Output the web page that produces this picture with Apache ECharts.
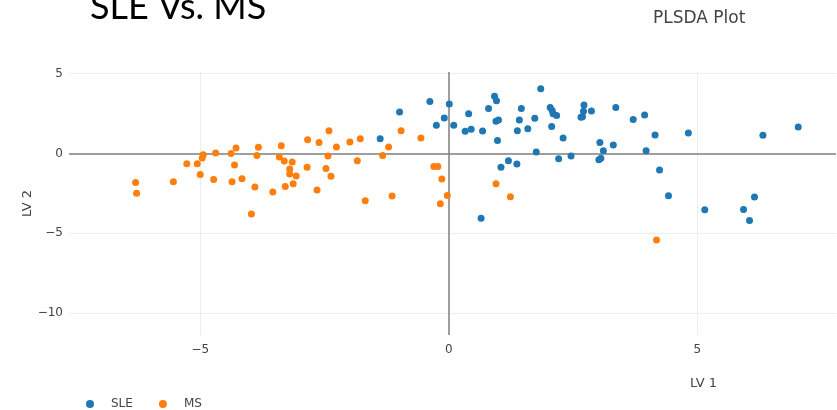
<!DOCTYPE html>
<html>
<head>
<meta charset="utf-8">
<script src="https://cdn.jsdelivr.net/npm/echarts@6/dist/echarts.min.js"></script>
<style>html,body{margin:0;padding:0;background:#fff}#c{width:837px;height:410px}</style>
</head>
<body>
<div id="c"></div>
<script>
const seriesNames = ["SLE", "MS"];
const sleLV1 = [-1.38,-0.99,-0.38,-0.25,-0.09,0.01,0.10,0.40,0.33,0.45,0.68,0.80,0.92,0.96,0.95,1.00,0.98,0.65,1.05,1.20,1.37,1.38,1.42,1.46,1.59,1.73,1.85,1.76,2.04,2.08,2.10,2.17,2.07,2.21,2.30,2.46,2.72,2.71,2.66,2.69,2.87,3.04,3.11,3.02,3.06,3.31,3.36,3.71,3.94,4.15,3.97,4.24,4.42,4.82,5.15,5.93,6.15,6.05,6.32,7.03];
const sleLV2 = [0.92,2.60,3.25,1.77,2.22,3.10,1.77,2.49,1.38,1.51,1.41,2.82,3.58,3.30,2.01,2.10,0.80,-4.06,-0.87,-0.46,-0.67,1.42,2.10,2.81,1.55,2.20,4.05,0.09,2.88,2.68,2.49,2.37,1.69,-0.33,0.97,-0.16,3.03,2.64,2.27,2.29,2.66,0.69,0.17,-0.40,-0.31,0.53,2.87,2.13,2.41,1.16,0.17,-1.04,-2.66,1.28,-3.53,-3.52,-2.74,-4.21,1.13,1.66];
const msLV1 = [-6.30,-6.28,-5.54,-5.27,-5.06,-4.94,-4.96,-5.00,-4.69,-4.73,-4.38,-4.28,-4.31,-4.36,-4.16,-3.97,-3.90,-3.86,-3.83,-3.54,-3.37,-3.41,-3.31,-3.15,-3.20,-3.20,-3.07,-3.29,-3.13,-2.84,-2.61,-2.85,-2.65,-2.41,-2.26,-2.43,-2.47,-2.37,-1.99,-1.78,-1.84,-1.68,-1.33,-1.21,-0.96,-1.14,-0.56,-0.30,-0.22,-0.14,-0.03,-0.17,0.95,1.24,4.18];
const msLV2 = [-1.82,-2.49,-1.78,-0.65,-0.65,-0.08,-0.29,-1.32,0.03,-1.63,0.00,0.34,-0.73,-1.78,-1.59,-3.80,-2.11,-0.14,0.38,-2.42,0.48,-0.23,-0.47,-0.54,-0.98,-1.29,-1.42,-2.07,-1.90,0.85,0.68,-0.87,-2.29,1.42,0.40,-0.16,-0.94,-1.44,0.72,0.92,-0.46,-2.97,-0.14,0.40,1.42,-2.67,0.97,-0.82,-0.82,-1.61,-2.64,-3.16,-1.90,-2.72,-5.42];
const xTicks = [-5, 0, 5];
const yTicks = [-10, -5, 0, 5];
const xRange = [-7.64, 7.79];
const yRange = [-11.38, 5.1];
const titleText = "SLE Vs. MS";
const subTitleText = "PLSDA Plot";
const xName = "LV 1";
const yName = "LV 2";

const zip = (a, b) => a.map((v, i) => [v, b[i]]);
const font = "'DejaVu Sans', Verdana, sans-serif";
const fmt = v => (v < 0 ? '\u2212' + Math.abs(v) : String(v));
const chart = echarts.init(document.getElementById('c'), null, {renderer: 'canvas'});
chart.setOption({
  animation: false,
  color: ['#1f77b4', '#ff7f0e'],
  title: [
    {text: titleText, left: 85, top: -16, textStyle: {fontFamily: 'Lato, sans-serif', fontSize: 36, fontWeight: 'normal', color: '#000'}},
    {text: subTitleText, left: 648, top: 5, textStyle: {fontFamily: font, fontSize: 17, fontWeight: 'normal', color: '#444'}},
    {text: xName, left: 685, top: 372, textStyle: {fontFamily: font, fontSize: 13, fontWeight: 'normal', color: '#444'}}
  ],
  legend: {
    left: 81, top: 393, itemWidth: 8, itemHeight: 8, itemGap: 26, icon: 'circle',
    textStyle: {fontFamily: font, fontSize: 12, color: '#444', padding: [0, 0, 0, 12]},
    data: seriesNames
  },
  grid: {left: 69, right: 1, top: 72, bottom: 75, containLabel: false},
  xAxis: {
    type: 'value', min: xRange[0], max: xRange[1],
    axisLine: {show: false}, axisTick: {show: false, customValues: xTicks},
    axisLabel: {customValues: xTicks, fontFamily: font, fontSize: 12, color: '#444', margin: 9, formatter: fmt},
    splitLine: {show: true, lineStyle: {color: '#eeeeee', width: 1}}
  },
  yAxis: {
    type: 'value', min: yRange[0], max: yRange[1],
    name: yName, nameLocation: 'middle', nameGap: 35, nameRotate: 90, nameMoveOverlap: false,
    nameTextStyle: {fontFamily: font, fontSize: 13, color: '#444'},
    axisLine: {show: false}, axisTick: {show: false, customValues: yTicks},
    axisLabel: {customValues: yTicks, fontFamily: font, fontSize: 12, color: '#444', margin: 6, formatter: fmt},
    splitLine: {show: true, lineStyle: {color: '#eeeeee', width: 1}}
  },
  series: [
    {
      name: seriesNames[0], type: 'scatter', symbolSize: 7, data: zip(sleLV1, sleLV2), z: 3,
      itemStyle: {opacity: 1},
      markLine: {
        silent: true, symbol: 'none', label: {show: false},
        lineStyle: {color: '#808080', width: 1.5, type: 'solid'},
        data: [{xAxis: 0}, {yAxis: 0}], z: 1
      }
    },
    {name: seriesNames[1], type: 'scatter', symbolSize: 7, data: zip(msLV1, msLV2), z: 3, itemStyle: {opacity: 1}}
  ]
});
</script>
</body>
</html>
